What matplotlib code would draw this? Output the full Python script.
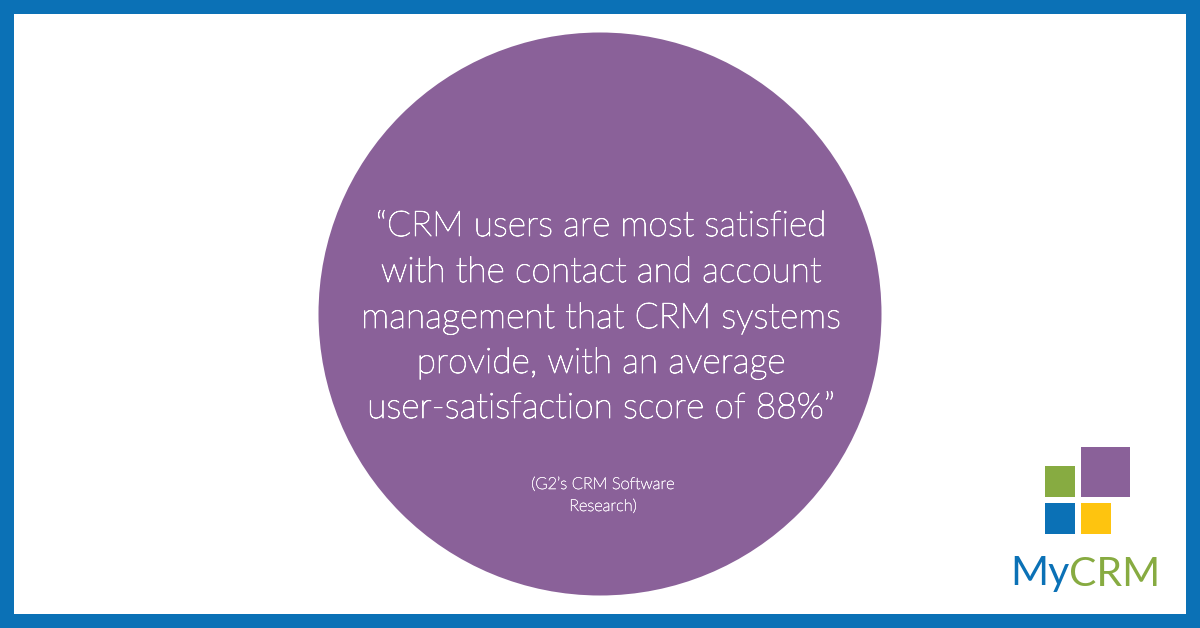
import matplotlib
matplotlib.use('Agg')
import matplotlib.pyplot as plt
import matplotlib.patheffects as pe
from matplotlib.patches import Circle, Rectangle

quote_lines = ['“CRM users are most satisfied',
               'with the contact and account',
               'management that CRM systems',
               'provide, with an average',
               'user-satisfaction score of 88%”']
quote_y = [236, 282, 328, 373, 418]
source_lines = ['(G2’s CRM Software', 'Research)']
source_y = [489, 511]

BLUE = '#0b71b6'
PURPLE = '#8a6199'
GREEN = '#87ab41'
YELLOW = '#fec40f'

plt.rcParams['font.family'] = ['Lato', 'DejaVu Sans']

fig = plt.figure(figsize=(12, 6.28), dpi=100, facecolor=BLUE)
ax = fig.add_axes([0, 0, 1, 1])
ax.set_xlim(0, 1200)
ax.set_ylim(628, 0)
ax.axis('off')

# white panel and big circle
ax.add_patch(Rectangle((14, 14), 1172, 600, fc='white', ec='none'))
ax.add_patch(Circle((600, 314), 281.5, fc=PURPLE, ec='none'))

# light weight comes out too thin, thicken it a little
for line, y in zip(quote_lines, quote_y):
    ax.text(601, y, line, color='white', fontsize=25.5, fontweight='light', ha='center', va='baseline',
            path_effects=[pe.withStroke(linewidth=0.6, foreground='white')])
for line, y in zip(source_lines, source_y):
    ax.text(603, y, line, color='#f1e8f3', fontsize=11.8, fontweight='light', ha='center', va='baseline',
            path_effects=[pe.withStroke(linewidth=0.4, foreground='#f1e8f3')])

# logo
ax.add_patch(Rectangle((1081, 447), 49, 50, fc=PURPLE, ec='none'))
ax.add_patch(Rectangle((1045, 466), 30, 31, fc=GREEN, ec='none'))
ax.add_patch(Rectangle((1045, 503), 30, 31, fc=BLUE, ec='none'))
ax.add_patch(Rectangle((1081, 503), 30, 31, fc=YELLOW, ec='none'))
ax.text(1069, 585.5, 'My', color=BLUE, fontsize=29.5, ha='right', va='baseline')
ax.text(1069, 585.5, 'CRM', color=GREEN, fontsize=29.5, ha='left', va='baseline')

fig.savefig('out.png', dpi=100, facecolor=fig.get_facecolor())
